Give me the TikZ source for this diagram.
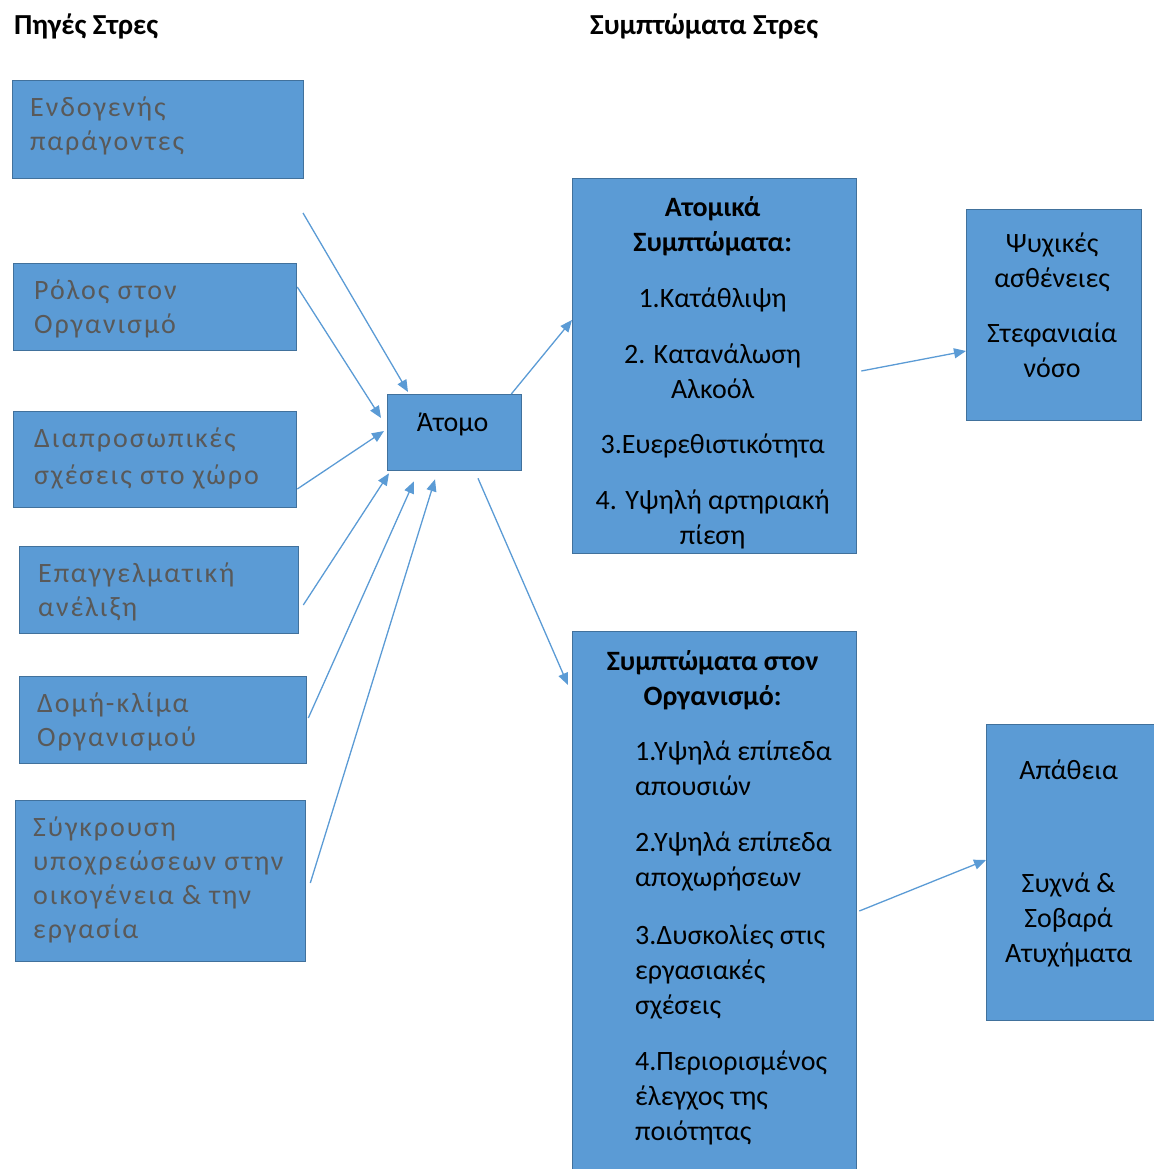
\documentclass[tikz,border=0pt]{standalone}
\usepackage{fontspec}
\setmainfont{Carlito}
\newfontfamily\spacedfont[LetterSpace=7]{Carlito}
\usetikzlibrary{positioning,arrows.meta}
\definecolor{boxfill}{HTML}{5B9BD5}
\definecolor{boxline}{HTML}{41719C}
\definecolor{srcgray}{HTML}{595959}
\definecolor{arrowblue}{HTML}{5B9BD5}

\begin{document}
\begin{tikzpicture}[
    x=1pt, y=-1pt,
    >={Triangle[length=12pt,width=10pt]},
    box/.style={
        draw=boxline,
        fill=boxfill,
        line width=1.3pt,
        anchor=north west,
        inner sep=0pt
    },
    srctext/.style={anchor=north west, inner sep=0pt, text=srcgray, align=left,
        font=\fontsize{28}{34}\spacedfont},
    symtext/.style={anchor=north, inner sep=0pt, align=center,
        font=\fontsize{28}{35}\selectfont},
    title/.style={anchor=west, inner sep=0pt, font=\fontsize{29}{32}\selectfont\bfseries},
    link/.style={->, draw=arrowblue, line width=1.3pt}
]
    \useasboundingbox (0,0) rectangle (1153,1169);

    % Titles
    \node[title] (srctitle) at (14,26) {Πηγές Στρες};
    \node[title] (symtitle) at (590,26) {Συμπτώματα Στρες};

    % Sources of stress (left column)
    \node[box, minimum width=291pt, minimum height=98pt,
          label={[srctext, xshift=18pt, yshift=-17pt]north west:{Ενδογενής\\παράγοντες}}]
          (endo) at (12,80) {};
    \node[box, minimum width=283pt, minimum height=87pt,
          label={[srctext, xshift=21pt, yshift=-17pt]north west:{Ρόλος στον\\Οργανισμό}}]
          (rolos) at (13,263) {};
    \node[box, minimum width=283pt, minimum height=96pt,
          label={[srctext, xshift=21pt, yshift=-17pt, font=\fontsize{28}{37}\spacedfont]north west:{Διαπροσωπικές\\σχέσεις στο χώρο}}]
          (diapr) at (13,411) {};
    \node[box, minimum width=279pt, minimum height=87pt,
          label={[srctext, xshift=19pt, yshift=-17pt]north west:{Επαγγελματική\\ανέλιξη}}]
          (epag) at (19,546) {};
    \node[box, minimum width=287pt, minimum height=87pt,
          label={[srctext, xshift=18pt, yshift=-17pt]north west:{Δομή-κλίμα\\Οργανισμού}}]
          (domi) at (19,676) {};
    \node[box, minimum width=290pt, minimum height=161pt,
          label={[srctext, xshift=18pt, yshift=-17pt]north west:{Σύγκρουση\\υποχρεώσεων στην\\οικογένεια \& την\\εργασία}}]
          (sygk) at (15,800) {};

    % Person
    \node[box, minimum width=134pt, minimum height=76pt,
          label={[symtext, xshift=-2pt, yshift=-19pt]north:{Άτομο}}]
          (atomo) at (387,394) {};

    % Symptoms
    \node[box, minimum width=284pt, minimum height=375pt,
          label={[symtext, xshift=-2pt, yshift=-18pt]north:{\textbf{Ατομικά}\\\textbf{Συμπτώματα:}\\[21pt]
              1.Κατάθλιψη\\[21pt]2. Κατανάλωση\\Αλκοόλ\\[20pt]3.Ευερεθιστικότητα\\[21pt]
              4. Υψηλή αρτηριακή\\πίεση}}]
          (atomika) at (572,178) {};
    \node[box, minimum width=284pt, minimum height=560pt,
          label={[symtext, xshift=-2pt, yshift=-19pt]north:{\textbf{Συμπτώματα στον}\\\textbf{Οργανισμό:}}},
          label={[srctext, text=black, font=\fontsize{28}{35}\selectfont, xshift=63pt, yshift=-110pt]north west:{%
              1.Υψηλά επίπεδα\\απουσιών\\[21pt]2.Υψηλά επίπεδα\\αποχωρήσεων\\[23pt]
              3.Δυσκολίες στις\\εργασιακές\\σχέσεις\\[21pt]4.Περιορισμένος\\έλεγχος της\\ποιότητας}}]
          (organ) at (572,631) {};

    % Consequences
    \node[box, minimum width=175pt, minimum height=211pt,
          label={[symtext, xshift=-2pt, yshift=-24pt]north:{Ψυχικές\\ασθένειες\\[20pt]Στεφανιαία\\νόσο}}]
          (psych) at (966,209) {};
    \node[box, minimum width=180pt, minimum height=296pt,
          label={[symtext, xshift=-8pt, yshift=-36pt]north:{Απάθεια\\[78pt]Συχνά \&\\Σοβαρά\\Ατυχήματα}}]
          (apath) at (986,724) {};

    % Arrows from the sources to the person
    \coordinate (endoout) at (303,213);
    \draw[link] (endoout) -- ([xshift=21pt,yshift=2pt]atomo.north west);
    \draw[link] ([yshift=-24pt]rolos.north east) -- ([xshift=-6pt,yshift=-24pt]atomo.north west);
    \draw[link] ([yshift=-78pt]diapr.north east) -- ([xshift=-3pt,yshift=-37pt]atomo.north west);
    \draw[link] ([xshift=4pt,yshift=-59pt]epag.north east) -- ([xshift=2pt,yshift=-2pt]atomo.south west);
    \draw[link] ([xshift=1pt,yshift=-42pt]domi.north east) -- ([xshift=27pt,yshift=-10pt]atomo.south west);
    \draw[link] ([xshift=4pt,yshift=-83pt]sygk.north east) -- ([xshift=48pt,yshift=-8pt]atomo.south west);

    % Arrows from the person to the symptoms
    \draw[link] ([xshift=-11pt]atomo.north east) -- ([yshift=-142pt]atomika.north west);
    \draw[link] ([xshift=91pt,yshift=-7pt]atomo.south west) -- ([xshift=-4pt,yshift=-54pt]organ.north west);

    % Arrows from the symptoms to the consequences
    \draw[link] ([xshift=4pt,yshift=-193pt]atomika.north east) -- ([yshift=-142pt]psych.north west);
    \draw[link] ([xshift=2pt,yshift=-280pt]organ.north east) -- ([yshift=-136pt]apath.north west);
\end{tikzpicture}
\end{document}
